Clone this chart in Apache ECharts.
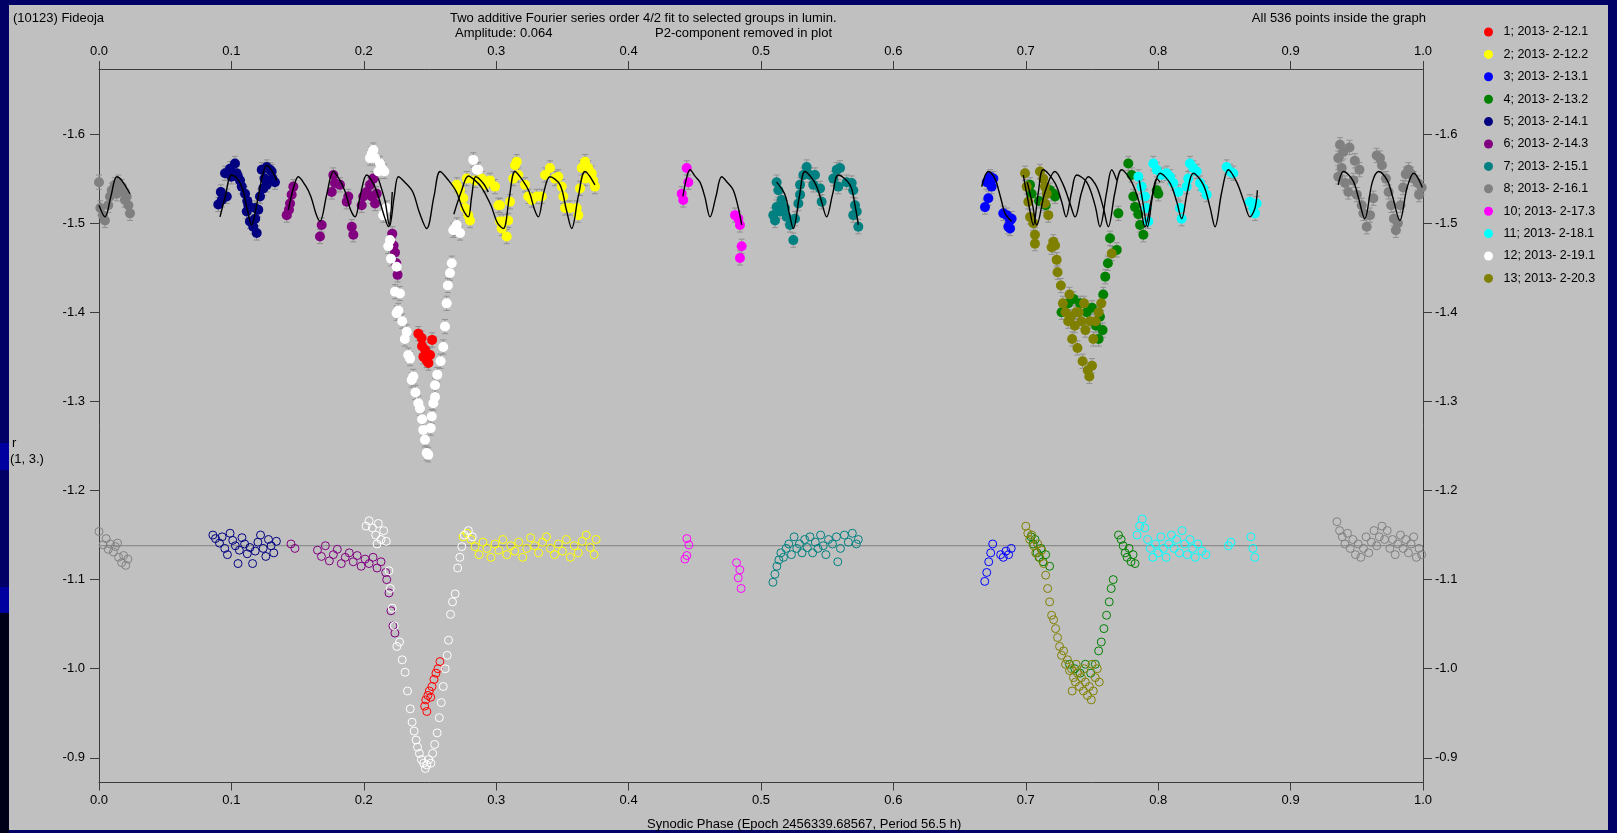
<!DOCTYPE html>
<html>
<head>
<meta charset="utf-8">
<script src="https://cdn.jsdelivr.net/npm/echarts@6/dist/echarts.min.js"></script>
<style>
html,body{margin:0;padding:0;background:#000066;width:1617px;height:833px;overflow:hidden;}
#panel{position:absolute;left:9px;top:5px;width:1599px;height:825px;background:#c0c0c0;}
.band{position:absolute;left:0;width:9px;}
#chart{position:absolute;left:0;top:0;width:1617px;height:833px;}
</style>
</head>
<body>
<div class="band" style="top:443px;height:27px;background:#0000a0"></div>
<div class="band" style="top:587px;height:26px;background:#0000a0"></div>
<div class="band" style="top:613px;height:220px;background:#000018"></div>
<div id="panel"></div>
<div id="chart"></div>
<script>
// ---------- labels ----------
const groupNames = ['1; 2013- 2-12.1','2; 2013- 2-12.2','3; 2013- 2-13.1','4; 2013- 2-13.2','5; 2013- 2-14.1','6; 2013- 2-14.3','7; 2013- 2-15.1','8; 2013- 2-16.1','10; 2013- 2-17.3','11; 2013- 2-18.1','12; 2013- 2-19.1','13; 2013- 2-20.3'];
const groupColors = ['#ff0000','#ffff00','#0000ff','#008000','#000080','#800080','#008080','#808080','#ff00ff','#00ffff','#ffffff','#808000'];
const xTicks = [0,0.1,0.2,0.3,0.4,0.5,0.6,0.7,0.8,0.9,1.0];
const yTicks = [-1.6,-1.5,-1.4,-1.3,-1.2,-1.1,-1.0,-0.9];
const yRange = [-1.673,-0.8723];
const errHalf = 0.008;
const refLine = [[0,-1.138],[1,-1.138]];

// ---------- top panel (filled points, [phase, mag]) ----------
const g1Top = [[0.2412,-1.376],[0.2437,-1.371],[0.2516,-1.369],[0.2450,-1.350],[0.2475,-1.346],[0.2501,-1.352],[0.2488,-1.343],[0.2463,-1.358],[0.2440,-1.362],[0.2480,-1.353]];
const g2Top = [[0.2702,-1.543],[0.2727,-1.537],[0.2752,-1.528],[0.2764,-1.517],[0.2789,-1.509],[0.2802,-1.503],[0.2777,-1.550],[0.2840,-1.548],[0.2890,-1.550],[0.2915,-1.543],[0.2953,-1.548],[0.2991,-1.541],[0.3016,-1.520],[0.3029,-1.502],[0.3041,-1.494],[0.3029,-1.520],[0.3054,-1.502],[0.3079,-1.485],[0.3091,-1.503],[0.3104,-1.524],[0.3142,-1.565],[0.3155,-1.569],[0.3129,-1.550],[0.3167,-1.554],[0.3218,-1.543],[0.3242,-1.530],[0.3268,-1.526],[0.3306,-1.530],[0.3344,-1.530],[0.3369,-1.554],[0.3406,-1.562],[0.3444,-1.550],[0.3469,-1.552],[0.3495,-1.541],[0.3507,-1.530],[0.3520,-1.517],[0.3557,-1.517],[0.3608,-1.517],[0.3620,-1.509],[0.3633,-1.539],[0.3646,-1.562],[0.3671,-1.569],[0.3696,-1.562],[0.3721,-1.556],[0.3746,-1.541],[0.3733,-1.548],[0.3671,-1.550]];
const g3Top = [[0.6705,-1.546],[0.6730,-1.552],[0.6755,-1.550],[0.6742,-1.541],[0.6717,-1.528],[0.6692,-1.518],[0.6830,-1.511],[0.6856,-1.509],[0.6881,-1.503],[0.6893,-1.505],[0.6868,-1.496],[0.6881,-1.494]];
const g4Top = [[0.7032,-1.543],[0.7044,-1.533],[0.7183,-1.537],[0.7208,-1.533],[0.7221,-1.530],[0.7100,-1.525],[0.7150,-1.520],[0.727,-1.400],[0.732,-1.410],[0.736,-1.415],[0.741,-1.410],[0.746,-1.400],[0.750,-1.405],[0.753,-1.385],[0.756,-1.395],[0.7585,-1.420],[0.760,-1.440],[0.762,-1.455],[0.7636,-1.483],[0.7687,-1.470],[0.7699,-1.511],[0.755,-1.370],[0.758,-1.380],[0.7774,-1.567],[0.7800,-1.554],[0.7812,-1.530],[0.7825,-1.518],[0.7863,-1.498],[0.7888,-1.487],[0.7989,-1.537],[0.8001,-1.533],[0.7850,-1.510]];
const g5Top = [[0.0901,-1.521],[0.0927,-1.526],[0.0965,-1.530],[0.0952,-1.556],[0.0989,-1.561],[0.1027,-1.567],[0.1040,-1.556],[0.1065,-1.548],[0.1078,-1.541],[0.1103,-1.533],[0.1128,-1.520],[0.1116,-1.513],[0.1140,-1.502],[0.1165,-1.496],[0.1191,-1.489],[0.1178,-1.517],[0.1203,-1.515],[0.1216,-1.530],[0.1241,-1.539],[0.1267,-1.543],[0.1229,-1.560],[0.1267,-1.563],[0.1304,-1.558],[0.1329,-1.546],[0.1292,-1.560],[0.0920,-1.535],[0.1000,-1.552],[0.1050,-1.552],[0.1120,-1.525],[0.1180,-1.505],[0.1250,-1.550],[0.1310,-1.550]];
const g6Top = [[0.1468,-1.541],[0.1455,-1.532],[0.1443,-1.522],[0.1418,-1.509],[0.1435,-1.515],[0.1682,-1.498],[0.1669,-1.485],[0.1770,-1.554],[0.1782,-1.545],[0.1758,-1.535],[0.1820,-1.543],[0.1883,-1.530],[0.1871,-1.524],[0.1909,-1.496],[0.1921,-1.487],[0.1984,-1.520],[0.1996,-1.530],[0.2022,-1.535],[0.2047,-1.543],[0.2060,-1.530],[0.2085,-1.522],[0.2097,-1.533],[0.2072,-1.550],[0.2215,-1.488],[0.2225,-1.475],[0.2236,-1.467],[0.2245,-1.455],[0.2255,-1.442]];
const g7Top = [[0.5118,-1.546],[0.5131,-1.537],[0.5156,-1.526],[0.5118,-1.518],[0.5093,-1.509],[0.5106,-1.503],[0.5143,-1.513],[0.5181,-1.517],[0.5194,-1.507],[0.5219,-1.498],[0.5244,-1.481],[0.5257,-1.505],[0.5282,-1.522],[0.5295,-1.532],[0.5295,-1.543],[0.5320,-1.554],[0.5345,-1.563],[0.5370,-1.554],[0.5395,-1.543],[0.5408,-1.554],[0.5446,-1.539],[0.5458,-1.524],[0.5546,-1.550],[0.5572,-1.560],[0.5597,-1.562],[0.5584,-1.541],[0.5647,-1.546],[0.5685,-1.545],[0.5697,-1.537],[0.5710,-1.520],[0.5723,-1.513],[0.5735,-1.496],[0.5697,-1.509]];
const g8Top = [[0.000,-1.546],[0.001,-1.517],[0.003,-1.509],[0.0045,-1.503],[0.007,-1.520],[0.0083,-1.530],[0.0096,-1.537],[0.012,-1.543],[0.0134,-1.533],[0.0146,-1.546],[0.0171,-1.541],[0.0184,-1.535],[0.0196,-1.526],[0.0209,-1.530],[0.0222,-1.520],[0.0234,-1.511],[0.9373,-1.588],[0.9398,-1.580],[0.9360,-1.573],[0.9386,-1.562],[0.9360,-1.552],[0.9411,-1.545],[0.9436,-1.535],[0.9474,-1.548],[0.9500,-1.532],[0.9537,-1.520],[0.9550,-1.511],[0.9575,-1.496],[0.9600,-1.509],[0.9625,-1.528],[0.9650,-1.576],[0.9675,-1.573],[0.969,-1.565],[0.972,-1.550],[0.974,-1.535],[0.976,-1.520],[0.978,-1.505],[0.9795,-1.492],[0.981,-1.500],[0.983,-1.520],[0.985,-1.540],[0.987,-1.555],[0.989,-1.560],[0.991,-1.555],[0.993,-1.550],[0.996,-1.545],[0.999,-1.540],[0.997,-1.532],[0.9445,-1.585],[0.9485,-1.570],[0.952,-1.560]];
const g10Top = [[0.4439,-1.562],[0.4451,-1.546],[0.4401,-1.533],[0.4413,-1.526],[0.4804,-1.509],[0.4829,-1.505],[0.4841,-1.498],[0.4854,-1.474],[0.4841,-1.461]];
const g11Top = [[0.7850,-1.552],[0.7875,-1.541],[0.7900,-1.530],[0.7913,-1.517],[0.7925,-1.502],[0.7963,-1.567],[0.7989,-1.560],[0.8026,-1.554],[0.8064,-1.556],[0.8089,-1.552],[0.8114,-1.545],[0.8152,-1.535],[0.8165,-1.517],[0.8177,-1.505],[0.8215,-1.541],[0.8227,-1.550],[0.8240,-1.567],[0.8265,-1.562],[0.8291,-1.558],[0.8316,-1.545],[0.8341,-1.539],[0.8366,-1.532],[0.8517,-1.563],[0.8542,-1.558],[0.8567,-1.556],[0.8693,-1.524],[0.8718,-1.517],[0.8731,-1.511],[0.8744,-1.522]];
const g12Top = [[0.2060,-1.578],[0.2085,-1.573],[0.2122,-1.567],[0.2135,-1.562],[0.2110,-1.558],[0.2155,-1.558],[0.2047,-1.573],[0.2072,-1.582],[0.2147,-1.509],[0.2173,-1.517],[0.2198,-1.481],[0.2185,-1.474],[0.2205,-1.460],[0.2248,-1.451],[0.2236,-1.423],[0.2273,-1.421],[0.2261,-1.402],[0.2248,-1.399],[0.2290,-1.390],[0.2310,-1.370],[0.2324,-1.378],[0.2336,-1.352],[0.2349,-1.348],[0.2374,-1.328],[0.2362,-1.324],[0.2390,-1.310],[0.2412,-1.298],[0.2424,-1.292],[0.2440,-1.280],[0.2449,-1.268],[0.2462,-1.257],[0.2475,-1.242],[0.2487,-1.240],[0.2505,-1.270],[0.2513,-1.283],[0.2525,-1.298],[0.2538,-1.305],[0.2538,-1.318],[0.2555,-1.330],[0.2580,-1.345],[0.2600,-1.361],[0.2613,-1.384],[0.2626,-1.410],[0.2635,-1.430],[0.2651,-1.444],[0.2664,-1.455],[0.2676,-1.492],[0.2702,-1.498],[0.2727,-1.489],[0.2689,-1.494],[0.2827,-1.571],[0.2853,-1.560],[0.2865,-1.560]];
const g13Top = [[0.6994,-1.556],[0.7007,-1.541],[0.7019,-1.524],[0.7032,-1.507],[0.7057,-1.500],[0.7069,-1.487],[0.7069,-1.477],[0.7107,-1.558],[0.7132,-1.550],[0.7145,-1.541],[0.7158,-1.533],[0.7145,-1.522],[0.7170,-1.509],[0.7208,-1.479],[0.7221,-1.475],[0.7233,-1.459],[0.7195,-1.473],[0.7240,-1.445],[0.7265,-1.430],[0.7280,-1.410],[0.7300,-1.400],[0.7320,-1.390],[0.7340,-1.395],[0.7350,-1.370],[0.7370,-1.385],[0.7390,-1.360],[0.7400,-1.400],[0.7420,-1.390],[0.7429,-1.345],[0.7450,-1.380],[0.7468,-1.335],[0.7480,-1.328],[0.7500,-1.340],[0.7510,-1.370],[0.7527,-1.390],[0.7550,-1.400],[0.7570,-1.410],[0.7330,-1.420],[0.7380,-1.400],[0.7440,-1.410],[0.7485,-1.390],[0.7649,-1.466]];

// ---------- bottom panel (open circles, [phase, mag]) ----------
const g1Bot = [[0.2460,-0.958],[0.2468,-0.965],[0.2476,-0.952],[0.2484,-0.970],[0.2495,-0.975],[0.2505,-0.968],[0.2515,-0.980],[0.2530,-0.988],[0.2545,-0.995],[0.2560,-1.000],[0.2575,-1.008]];
const g2Bot = [[0.275,-1.148],[0.278,-1.152],[0.281,-1.145],[0.284,-1.137],[0.287,-1.128],[0.290,-1.142],[0.293,-1.135],[0.296,-1.125],[0.299,-1.140],[0.302,-1.133],[0.305,-1.145],[0.308,-1.128],[0.311,-1.138],[0.314,-1.132],[0.317,-1.142],[0.320,-1.125],[0.323,-1.135],[0.326,-1.147],[0.329,-1.138],[0.332,-1.130],[0.335,-1.142],[0.338,-1.148],[0.341,-1.135],[0.344,-1.128],[0.347,-1.140],[0.350,-1.132],[0.353,-1.145],[0.356,-1.125],[0.359,-1.138],[0.362,-1.130],[0.365,-1.143],[0.368,-1.150],[0.371,-1.136],[0.374,-1.128],[0.3755,-1.145]];
const g3Bot = [[0.669,-1.098],[0.6705,-1.108],[0.672,-1.120],[0.6735,-1.130],[0.675,-1.140],[0.681,-1.128],[0.683,-1.125],[0.685,-1.132],[0.687,-1.128],[0.689,-1.135]];
const g4Bot = [[0.704,-1.148],[0.7055,-1.140],[0.707,-1.145],[0.7085,-1.130],[0.710,-1.125],[0.7115,-1.135],[0.713,-1.120],[0.715,-1.128],[0.718,-1.115],[0.733,-1.005],[0.737,-1.000],[0.741,-0.995],[0.745,-1.005],[0.749,-0.995],[0.7525,-1.005],[0.755,-1.020],[0.757,-1.030],[0.759,-1.045],[0.761,-1.060],[0.763,-1.075],[0.7645,-1.090],[0.766,-1.100],[0.770,-1.150],[0.772,-1.145],[0.7735,-1.138],[0.775,-1.130],[0.7765,-1.125],[0.778,-1.135],[0.7795,-1.120],[0.781,-1.128],[0.7825,-1.118]];
const g5Bot = [[0.086,-1.150],[0.088,-1.146],[0.091,-1.141],[0.093,-1.148],[0.095,-1.135],[0.097,-1.128],[0.099,-1.152],[0.101,-1.144],[0.103,-1.138],[0.105,-1.118],[0.106,-1.133],[0.108,-1.147],[0.110,-1.140],[0.112,-1.129],[0.114,-1.136],[0.116,-1.118],[0.118,-1.132],[0.120,-1.142],[0.122,-1.150],[0.124,-1.135],[0.126,-1.126],[0.128,-1.145],[0.130,-1.138],[0.132,-1.130],[0.134,-1.143]];
const g6Bot = [[0.145,-1.140],[0.148,-1.135],[0.165,-1.133],[0.168,-1.126],[0.171,-1.138],[0.174,-1.121],[0.177,-1.128],[0.180,-1.134],[0.183,-1.118],[0.186,-1.125],[0.189,-1.130],[0.192,-1.120],[0.195,-1.127],[0.198,-1.115],[0.201,-1.123],[0.204,-1.118],[0.207,-1.125],[0.210,-1.113],[0.213,-1.120],[0.2165,-1.108],[0.2173,-1.100],[0.2190,-1.085],[0.2205,-1.065],[0.2220,-1.048],[0.2235,-1.040]];
const g7Bot = [[0.509,-1.097],[0.5105,-1.106],[0.512,-1.115],[0.5135,-1.122],[0.515,-1.130],[0.517,-1.125],[0.519,-1.135],[0.521,-1.140],[0.523,-1.128],[0.525,-1.148],[0.527,-1.135],[0.529,-1.140],[0.531,-1.130],[0.533,-1.145],[0.535,-1.136],[0.537,-1.148],[0.539,-1.130],[0.541,-1.142],[0.543,-1.135],[0.545,-1.150],[0.547,-1.138],[0.549,-1.128],[0.551,-1.145],[0.554,-1.140],[0.557,-1.148],[0.560,-1.135],[0.563,-1.150],[0.566,-1.142],[0.569,-1.152],[0.572,-1.140],[0.5735,-1.145],[0.558,-1.120]];
const g8Bot = [[0.000,-1.154],[0.0031,-1.139],[0.0054,-1.146],[0.007,-1.134],[0.0085,-1.140],[0.0109,-1.131],[0.0124,-1.137],[0.0140,-1.141],[0.0148,-1.125],[0.0171,-1.119],[0.0186,-1.127],[0.0202,-1.116],[0.0218,-1.123],[0.935,-1.165],[0.937,-1.155],[0.939,-1.148],[0.941,-1.140],[0.943,-1.152],[0.945,-1.135],[0.947,-1.145],[0.949,-1.128],[0.951,-1.140],[0.953,-1.125],[0.955,-1.135],[0.957,-1.148],[0.959,-1.130],[0.961,-1.142],[0.963,-1.155],[0.965,-1.138],[0.967,-1.148],[0.969,-1.160],[0.971,-1.145],[0.973,-1.155],[0.975,-1.135],[0.977,-1.145],[0.979,-1.128],[0.981,-1.140],[0.983,-1.150],[0.985,-1.135],[0.987,-1.145],[0.989,-1.130],[0.991,-1.140],[0.993,-1.148],[0.995,-1.125],[0.997,-1.135],[0.999,-1.128]];
const g10Bot = [[0.4440,-1.146],[0.4455,-1.139],[0.4440,-1.127],[0.4425,-1.123],[0.4815,-1.119],[0.4840,-1.111],[0.4828,-1.102],[0.4850,-1.090]];
const g11Bot = [[0.784,-1.150],[0.786,-1.160],[0.788,-1.168],[0.790,-1.158],[0.792,-1.145],[0.794,-1.135],[0.796,-1.125],[0.798,-1.140],[0.800,-1.130],[0.802,-1.148],[0.804,-1.135],[0.806,-1.125],[0.808,-1.140],[0.810,-1.150],[0.812,-1.135],[0.814,-1.145],[0.816,-1.130],[0.818,-1.155],[0.820,-1.140],[0.822,-1.128],[0.824,-1.145],[0.826,-1.135],[0.828,-1.125],[0.830,-1.140],[0.833,-1.132],[0.836,-1.128],[0.853,-1.138],[0.855,-1.142],[0.870,-1.148],[0.8715,-1.135],[0.873,-1.125]];
const g12Bot = [[0.2017,-1.160],[0.2040,-1.166],[0.2065,-1.158],[0.2090,-1.150],[0.2110,-1.163],[0.2130,-1.145],[0.2150,-1.155],[0.2170,-1.143],[0.2100,-1.140],[0.2190,-1.110],[0.2200,-1.090],[0.2215,-1.068],[0.2230,-1.048],[0.2250,-1.025],[0.2270,-1.030],[0.2290,-1.010],[0.2312,-0.996],[0.2330,-0.975],[0.2351,-0.955],[0.2365,-0.940],[0.2380,-0.930],[0.2395,-0.920],[0.2406,-0.912],[0.2420,-0.905],[0.2435,-0.898],[0.2452,-0.894],[0.2465,-0.888],[0.2476,-0.892],[0.2490,-0.898],[0.2507,-0.894],[0.2520,-0.905],[0.2535,-0.915],[0.2554,-0.928],[0.2570,-0.945],[0.2585,-0.962],[0.2600,-0.980],[0.2615,-1.000],[0.2630,-1.015],[0.2640,-1.032],[0.2655,-1.061],[0.2670,-1.075],[0.2690,-1.084],[0.2709,-1.113],[0.2725,-1.125],[0.2740,-1.137],[0.2760,-1.150],[0.2790,-1.155],[0.2820,-1.148]];
const g13Bot = [[0.700,-1.160],[0.7015,-1.152],[0.703,-1.145],[0.7045,-1.150],[0.706,-1.138],[0.7075,-1.130],[0.709,-1.140],[0.7105,-1.125],[0.712,-1.133],[0.7135,-1.118],[0.715,-1.105],[0.7165,-1.090],[0.718,-1.075],[0.7195,-1.060],[0.721,-1.055],[0.7225,-1.045],[0.724,-1.035],[0.7255,-1.025],[0.727,-1.015],[0.7285,-1.020],[0.730,-1.005],[0.7315,-1.010],[0.733,-0.998],[0.7345,-1.000],[0.736,-0.990],[0.7375,-0.985],[0.739,-0.995],[0.7405,-0.980],[0.742,-0.990],[0.7435,-0.975],[0.745,-0.985],[0.7465,-0.970],[0.748,-0.980],[0.7495,-0.965],[0.751,-0.975],[0.7525,-0.990],[0.754,-1.000],[0.7555,-0.985],[0.738,-1.005],[0.744,-1.000],[0.750,-1.005],[0.735,-0.975]];

// ---------- fitted curves ----------
const cGrayA = [[0.000,-1.520],[0.0045,-1.507],[0.009,-1.530],[0.0134,-1.552],[0.0171,-1.548],[0.0234,-1.533]];
const cNavy = [[0.0914,-1.507],[0.0950,-1.528],[0.1002,-1.554],[0.1045,-1.550],[0.1085,-1.538],[0.1120,-1.515],[0.1153,-1.498],[0.1190,-1.520],[0.1230,-1.550],[0.1267,-1.565],[0.1300,-1.560],[0.1342,-1.548]];
const cPurple = [[0.1430,-1.515],[0.1470,-1.540],[0.1505,-1.552],[0.1560,-1.542],[0.1600,-1.530],[0.1640,-1.510],[0.1669,-1.502],[0.1720,-1.532],[0.1770,-1.558],[0.1820,-1.548],[0.1860,-1.535],[0.1900,-1.515],[0.1934,-1.507],[0.1975,-1.532],[0.2022,-1.554],[0.2070,-1.545],[0.2110,-1.530],[0.2150,-1.510],[0.2185,-1.496],[0.2215,-1.535]];
const cWhite = [[0.2110,-1.550],[0.2160,-1.525],[0.2195,-1.497],[0.2230,-1.530],[0.2261,-1.552],[0.2310,-1.546],[0.2370,-1.535],[0.2420,-1.512],[0.2475,-1.494],[0.2530,-1.530],[0.2576,-1.558],[0.2640,-1.548],[0.2700,-1.535],[0.2750,-1.515],[0.2789,-1.507],[0.2815,-1.530],[0.2845,-1.552],[0.2900,-1.545],[0.2940,-1.535]];
const cYellow = [[0.2680,-1.510],[0.2735,-1.535],[0.2790,-1.553],[0.2840,-1.548],[0.2890,-1.540],[0.2960,-1.520],[0.3010,-1.500],[0.3054,-1.494],[0.3100,-1.530],[0.3142,-1.558],[0.3200,-1.548],[0.3250,-1.535],[0.3290,-1.515],[0.3318,-1.507],[0.3360,-1.535],[0.3406,-1.552],[0.3482,-1.543],[0.3530,-1.515],[0.3570,-1.494],[0.3620,-1.530],[0.3671,-1.558],[0.3746,-1.543]];
const cMagenta = [[0.4410,-1.530],[0.4440,-1.552],[0.4464,-1.560],[0.4500,-1.553],[0.4539,-1.546],[0.4575,-1.530],[0.4615,-1.507],[0.4660,-1.530],[0.4703,-1.552],[0.4750,-1.545],[0.4791,-1.537],[0.4829,-1.517],[0.4854,-1.498]];
const cTeal = [[0.5118,-1.546],[0.5181,-1.532],[0.5215,-1.510],[0.5244,-1.494],[0.5290,-1.530],[0.5332,-1.558],[0.5408,-1.545],[0.5450,-1.528],[0.5496,-1.507],[0.5540,-1.532],[0.5584,-1.554],[0.5672,-1.543],[0.5710,-1.520],[0.5735,-1.498]];
const cBlue = [[0.6667,-1.541],[0.6717,-1.558],[0.6767,-1.550],[0.6795,-1.537],[0.6818,-1.524],[0.6843,-1.511],[0.6893,-1.502]];
const cOlive = [[0.6981,-1.554],[0.7019,-1.524],[0.7057,-1.498],[0.7095,-1.535],[0.7132,-1.560],[0.7221,-1.545],[0.7271,-1.524],[0.7304,-1.507],[0.7346,-1.535],[0.7384,-1.554],[0.7460,-1.546],[0.7523,-1.520],[0.7560,-1.496],[0.7611,-1.535],[0.7649,-1.560],[0.7687,-1.548]];
const cGreen = [[0.7011,-1.546],[0.7052,-1.520],[0.7082,-1.498],[0.7145,-1.535],[0.7221,-1.558],[0.7283,-1.543],[0.7334,-1.522],[0.7372,-1.507],[0.7422,-1.535],[0.7472,-1.552],[0.7535,-1.541],[0.7586,-1.517],[0.7623,-1.496],[0.7674,-1.535],[0.7724,-1.560],[0.7800,-1.546],[0.7863,-1.520],[0.7900,-1.496],[0.7951,-1.528],[0.7989,-1.550],[0.8014,-1.546]];
const cCyan = [[0.7857,-1.548],[0.7888,-1.520],[0.7918,-1.496],[0.7963,-1.535],[0.8014,-1.556],[0.8089,-1.545],[0.8140,-1.524],[0.8177,-1.505],[0.8220,-1.535],[0.8265,-1.556],[0.8341,-1.543],[0.8391,-1.518],[0.8429,-1.496],[0.8480,-1.535],[0.8530,-1.560],[0.8593,-1.546],[0.8648,-1.524],[0.8693,-1.507],[0.8731,-1.517],[0.8749,-1.537]];
const cGrayB = [[0.936,-1.543],[0.940,-1.558],[0.947,-1.548],[0.951,-1.530],[0.956,-1.505],[0.9617,-1.546],[0.9665,-1.558],[0.973,-1.548],[0.977,-1.530],[0.9825,-1.503],[0.988,-1.540],[0.993,-1.556],[0.9995,-1.540]];

const topData = [g1Top,g2Top,g3Top,g4Top,g5Top,g6Top,g7Top,g8Top,g10Top,g11Top,g12Top,g13Top];
const botData = [g1Bot,g2Bot,g3Bot,g4Bot,g5Bot,g6Bot,g7Bot,g8Bot,g10Bot,g11Bot,g12Bot,g13Bot];
const curves = [cGrayA,cNavy,cPurple,cWhite,cYellow,cMagenta,cTeal,cBlue,cOlive,cGreen,cCyan,cGrayB];

// ---------- chart ----------
const FONT = 'Liberation Sans, Arial, sans-serif';
const axisCol = '#3c3c3c';
const chart = echarts.init(document.getElementById('chart'), null, {renderer:'canvas'});

const series = [];
series.push({
  type:'custom', silent:true, z:2,
  data: topData.flat(),
  encode:{x:0,y:1},
  renderItem:function(params, api){
    const p = api.value(0), v = api.value(1);
    const a = api.coord([p, v - errHalf]), b = api.coord([p, v + errHalf]);
    const st = {stroke:'#909090', lineWidth:1};
    return {type:'group', children:[
      {type:'line', shape:{x1:a[0],y1:a[1],x2:b[0],y2:b[1]}, style:st},
      {type:'line', shape:{x1:a[0]-3,y1:a[1],x2:a[0]+3,y2:a[1]}, style:st},
      {type:'line', shape:{x1:b[0]-3,y1:b[1],x2:b[0]+3,y2:b[1]}, style:st}
    ]};
  }
});
series.push({type:'line', data:refLine, symbol:'none', silent:true, z:1, lineStyle:{color:'#808080', width:1}});
groupNames.forEach((n,i)=>{
  series.push({type:'scatter', name:n, data:topData[i], symbol:'circle', symbolSize:10, z:3,
    itemStyle:{color:groupColors[i], opacity:1}, emphasis:{disabled:true}});
});
groupNames.forEach((n,i)=>{
  series.push({type:'scatter', name:n, data:botData[i], symbol:'circle', symbolSize:8, z:3,
    itemStyle:{color:'rgba(0,0,0,0)', borderColor:groupColors[i], borderWidth:1, opacity:1}, emphasis:{disabled:true}});
});
curves.forEach(c=>{
  series.push({type:'line', data:c, symbol:'none', smooth:0.35, silent:true, z:5,
    lineStyle:{color:'#000000', width:1.4}});
});

const fmt = v => Number(v).toFixed(1);
const xBase = {type:'value', min:0, max:1, interval:0.1,
  axisLine:{show:true, onZero:false, lineStyle:{color:axisCol, width:1}},
  axisTick:{show:true, length:8, lineStyle:{color:axisCol}},
  axisLabel:{formatter:fmt, fontFamily:FONT, fontSize:13, color:'#000', showMinLabel:true, showMaxLabel:true},
  splitLine:{show:false}};
const yBase = {type:'value', inverse:true, min:yRange[0], max:yRange[1],
  axisLine:{show:true, onZero:false, lineStyle:{color:axisCol, width:1}},
  axisTick:{show:true, length:9, customValues:yTicks, lineStyle:{color:axisCol}},
  axisLabel:{customValues:yTicks, formatter:fmt, fontFamily:FONT, fontSize:13, color:'#000'},
  splitLine:{show:false}};

const txt = (x,y,t,align) => ({type:'text', x:x, y:y, silent:true,
  style:{text:t, fontFamily:FONT, fontSize:13, fill:'#000', align:align||'left', verticalAlign:'middle'}});

chart.setOption({
  animation:false,
  backgroundColor:'transparent',
  grid:{left:99, right:194, top:69, bottom:50.5, containLabel:false},
  xAxis:[
    Object.assign({}, xBase, {position:'bottom', axisLabel:Object.assign({}, xBase.axisLabel, {margin:11})}),
    Object.assign({}, xBase, {position:'top', axisLabel:Object.assign({}, xBase.axisLabel, {margin:11})})
  ],
  yAxis:[
    Object.assign({}, yBase, {position:'left', axisLabel:Object.assign({}, yBase.axisLabel, {margin:14})}),
    Object.assign({}, yBase, {position:'right', axisLabel:Object.assign({}, yBase.axisLabel, {margin:12})})
  ],
  legend:{orient:'vertical', left:1479, top:20.5, itemWidth:20, itemHeight:9, itemGap:9.4,
    icon:'circle', selectedMode:false,
    textStyle:{fontFamily:FONT, fontSize:12.5, color:'#000'},
    data:groupNames.map((n,i)=>({name:n, icon:'circle', itemStyle:{color:groupColors[i], borderWidth:0}}))},
  graphic:[
    txt(13,18,'(10123) Fideoja'),
    txt(450,18,'Two additive Fourier series order 4/2 fit to selected groups in lumin.'),
    txt(455,33,'Amplitude: 0.064'),
    txt(655,33,'P2-component removed in plot'),
    txt(1426,18,'All 536 points inside the graph','right'),
    txt(12,443,'r'),
    txt(10,459,'(1, 3.)'),
    txt(647,824,'Synodic Phase (Epoch 2456339.68567, Period 56.5 h)')
  ],
  series:series
});
</script>
</body>
</html>
